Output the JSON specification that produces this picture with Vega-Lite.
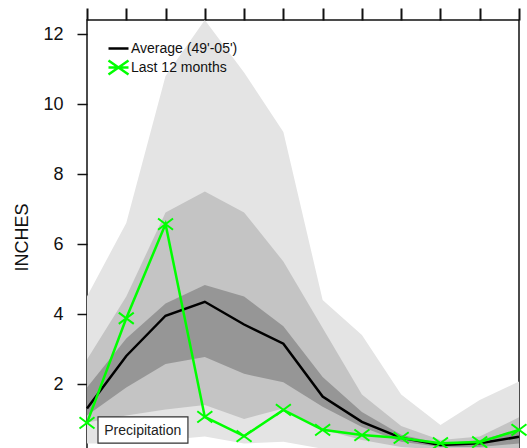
{
  "$schema": "https://vega.github.io/schema/vega-lite/v6.json",
  "autosize": "none",
  "width": 432,
  "height": 434,
  "padding": {"left": 87, "top": 20, "right": 8, "bottom": 0},
  "background": "white",
  "config": {
    "font": "Liberation Sans",
    "view": {"stroke": "#111", "strokeWidth": 1.5},
    "axis": {"grid": false, "domain": false}
  },
  "datasets": {
    "bands": [
      {"month": 0, "min": 0.3, "p10": 0.9, "p25": 1.1, "p75": 1.9, "p90": 2.7, "max": 4.5},
      {"month": 1, "min": 0.3, "p10": 1.1, "p25": 1.9, "p75": 3.3, "p90": 4.5, "max": 6.6},
      {"month": 2, "min": 0.4, "p10": 1.27, "p25": 2.57, "p75": 4.3, "p90": 6.9, "max": 10.8},
      {"month": 3, "min": 0.5, "p10": 1.4, "p25": 2.77, "p75": 4.83, "p90": 7.5, "max": 12.4},
      {"month": 4, "min": 0.3, "p10": 1.0, "p25": 2.29, "p75": 4.5, "p90": 6.9, "max": 10.9},
      {"month": 5, "min": 0.35, "p10": 1.3, "p25": 2.05, "p75": 3.65, "p90": 5.5, "max": 9.2},
      {"month": 6, "min": 0.15, "p10": 0.7, "p25": 1.35, "p75": 2.2, "p90": 3.6, "max": 4.4},
      {"month": 7, "min": 0.1, "p10": 0.4, "p25": 0.77, "p75": 1.2, "p90": 1.7, "max": 3.4},
      {"month": 8, "min": 0.05, "p10": 0.2, "p25": 0.35, "p75": 0.55, "p90": 0.8, "max": 1.7},
      {"month": 9, "min": 0.02, "p10": 0.12, "p25": 0.2, "p75": 0.3, "p90": 0.4, "max": 0.83},
      {"month": 10, "min": 0.02, "p10": 0.1, "p25": 0.2, "p75": 0.4, "p90": 0.5, "max": 1.54},
      {"month": 11, "min": 0.05, "p10": 0.15, "p25": 0.3, "p75": 0.7, "p90": 1.05, "max": 2.07}
    ],
    "series": [
      {"month": 0, "series": "Average (49'-05')", "value": 1.3},
      {"month": 1, "series": "Average (49'-05')", "value": 2.8},
      {"month": 2, "series": "Average (49'-05')", "value": 3.95},
      {"month": 3, "series": "Average (49'-05')", "value": 4.35},
      {"month": 4, "series": "Average (49'-05')", "value": 3.7},
      {"month": 5, "series": "Average (49'-05')", "value": 3.15},
      {"month": 6, "series": "Average (49'-05')", "value": 1.64},
      {"month": 7, "series": "Average (49'-05')", "value": 0.92},
      {"month": 8, "series": "Average (49'-05')", "value": 0.46},
      {"month": 9, "series": "Average (49'-05')", "value": 0.26},
      {"month": 10, "series": "Average (49'-05')", "value": 0.31},
      {"month": 11, "series": "Average (49'-05')", "value": 0.49},
      {"month": 0, "series": "Last 12 months", "value": 0.89},
      {"month": 1, "series": "Last 12 months", "value": 3.88},
      {"month": 2, "series": "Last 12 months", "value": 6.57},
      {"month": 3, "series": "Last 12 months", "value": 1.06},
      {"month": 4, "series": "Last 12 months", "value": 0.51},
      {"month": 5, "series": "Last 12 months", "value": 1.26},
      {"month": 6, "series": "Last 12 months", "value": 0.69},
      {"month": 7, "series": "Last 12 months", "value": 0.54},
      {"month": 8, "series": "Last 12 months", "value": 0.46},
      {"month": 9, "series": "Last 12 months", "value": 0.31},
      {"month": 10, "series": "Last 12 months", "value": 0.34},
      {"month": 11, "series": "Last 12 months", "value": 0.69}
    ],
    "notes": [{"note": "Precipitation"}]
  },
  "layer": [
    {
      "data": {"name": "bands"},
      "mark": {"type": "area", "color": "#e4e4e4"},
      "encoding": {
        "x": {
          "field": "month", "type": "quantitative",
          "scale": {"domain": [0, 11], "nice": false, "zero": false},
          "axis": {"orient": "top", "title": null, "labels": false, "values": [0,1,2,3,4,5,6,7,8,9,10,11], "tickSize": 12, "tickWidth": 2, "tickColor": "#111"}
        },
        "y": {
          "field": "min", "type": "quantitative",
          "scale": {"domain": [0, 12.4], "nice": false},
          "axis": {"title": "INCHES", "values": [2,4,6,8,10,12], "tickSize": 10, "tickWidth": 1.5, "tickColor": "#111", "labelFontSize": 18, "labelColor": "#111", "labelPadding": 14, "titleFontSize": 18, "titleFontWeight": "normal", "titleColor": "#111", "titlePadding": 11}
        },
        "y2": {"field": "max"}
      }
    },
    {
      "data": {"name": "bands"},
      "mark": {"type": "area", "color": "#c4c4c4"},
      "encoding": {"x": {"field": "month", "type": "quantitative", "axis": {"orient": "top", "title": null, "labels": false, "values": [0,1,2,3,4,5,6,7,8,9,10,11], "tickSize": 12, "tickWidth": 2, "tickColor": "#111"}}, "y": {"field": "p10", "type": "quantitative"}, "y2": {"field": "p90"}}
    },
    {
      "data": {"name": "bands"},
      "mark": {"type": "area", "color": "#969696"},
      "encoding": {"x": {"field": "month", "type": "quantitative", "axis": {"orient": "top", "title": null, "labels": false, "values": [0,1,2,3,4,5,6,7,8,9,10,11], "tickSize": 12, "tickWidth": 2, "tickColor": "#111"}}, "y": {"field": "p25", "type": "quantitative"}, "y2": {"field": "p75"}}
    },
    {
      "data": {"name": "series"},
      "mark": {"type": "line", "strokeWidth": 2.5},
      "encoding": {
        "x": {"field": "month", "type": "quantitative", "axis": {"orient": "top", "title": null, "labels": false, "values": [0,1,2,3,4,5,6,7,8,9,10,11], "tickSize": 12, "tickWidth": 2, "tickColor": "#111"}},
        "y": {"field": "value", "type": "quantitative"},
        "color": {
          "field": "series", "type": "nominal",
          "scale": {"domain": ["Average (49'-05')", "Last 12 months"], "range": ["#000000", "#00ff00"]},
          "legend": {
            "title": null, "orient": "none", "legendX": 20, "legendY": 17,
            "padding": 0, "symbolSize": 400, "symbolStrokeWidth": 2.5, "rowPadding": -6,
            "labelFontSize": 14, "labelColor": "#111", "labelOffset": 1,
            "symbolType": "stroke",
            "encode": {"symbols": {"update": {"shape": {"signal": "datum.value === 'Last 12 months' ? 'M-1,-0.7L1,0.7M-1,0.7L1,-0.7M-1,0L1,0' : 'M-1,0L1,0'"}}}}
          }
        }
      }
    },
    {
      "data": {"name": "series"},
      "transform": [{"filter": "datum.series === 'Last 12 months'"}],
      "mark": {"type": "point", "shape": "M-1,-0.75L1,0.75M-1,0.75L1,-0.75", "size": 225, "filled": false, "strokeWidth": 2, "color": "#00ff00", "opacity": 1},
      "encoding": {"x": {"field": "month", "type": "quantitative", "axis": {"orient": "top", "title": null, "labels": false, "values": [0,1,2,3,4,5,6,7,8,9,10,11], "tickSize": 12, "tickWidth": 2, "tickColor": "#111"}}, "y": {"field": "value", "type": "quantitative"}}
    },
    {
      "data": {"name": "notes"},
      "mark": {"type": "rect", "fill": "white", "stroke": "#333", "strokeWidth": 1.2},
      "encoding": {
        "x": {"datum": 0.28, "type": "quantitative", "axis": {"orient": "top", "title": null, "labels": false, "values": [0,1,2,3,4,5,6,7,8,9,10,11], "tickSize": 12, "tickWidth": 2, "tickColor": "#111"}}, "x2": {"datum": 2.57},
        "y": {"datum": 0.31, "type": "quantitative"}, "y2": {"datum": 1.06}
      }
    },
    {
      "data": {"name": "notes"},
      "mark": {"type": "text", "fontSize": 14, "color": "#222", "align": "center", "baseline": "middle"},
      "encoding": {
        "x": {"datum": 1.42, "type": "quantitative", "axis": {"orient": "top", "title": null, "labels": false, "values": [0,1,2,3,4,5,6,7,8,9,10,11], "tickSize": 12, "tickWidth": 2, "tickColor": "#111"}}, "y": {"datum": 0.67, "type": "quantitative"},
        "text": {"field": "note", "type": "nominal"}
      }
    }
  ]
}
